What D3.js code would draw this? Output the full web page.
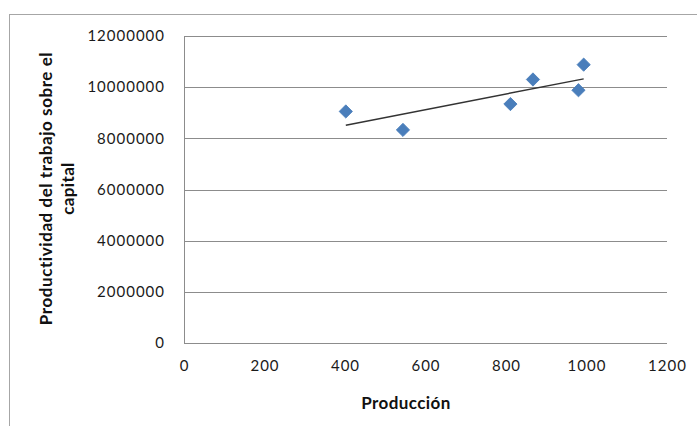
<!DOCTYPE html>
<html>
<head>
<meta charset="utf-8">
<script src="https://cdn.jsdelivr.net/npm/d3@7"></script>
<style>
html,body{margin:0;padding:0;background:#fff;}
svg{display:block;}
</style>
</head>
<body>
<svg id="chart" width="697" height="426"></svg>
<script>
const produccion = [402, 544, 811, 867, 980, 993];
const productividad = [9050000, 8330000, 9340000, 10300000, 9880000, 10880000];
const xTicks = [0, 200, 400, 600, 800, 1000, 1200];
const yTicks = [0, 2000000, 4000000, 6000000, 8000000, 10000000, 12000000];
const xTitle = "Producción";
const yTitleLines = ["Productividad del trabajo sobre el", "capital"];

const svg = d3.select("#chart");
const m = {left: 184, right: 667, top: 36, bottom: 343};
const x = d3.scaleLinear().domain([0, 1200]).range([m.left, m.right]);
const y = d3.scaleLinear().domain([0, 12000000]).range([m.bottom, m.top]);

// outer chart border
svg.append("rect").attr("x", 9.5).attr("y", 14.5).attr("width", 700).attr("height", 420)
  .attr("fill", "none").attr("stroke", "#a6a6a6").attr("stroke-width", 1);

// gridlines
svg.append("g").selectAll("line").data(yTicks).join("line")
  .attr("x1", m.left).attr("x2", m.right)
  .attr("y1", d => Math.round(y(d)) + 0.5).attr("y2", d => Math.round(y(d)) + 0.5)
  .attr("stroke", "#8c8c8c").attr("stroke-width", 1);

// left axis line
svg.append("line").attr("x1", m.left + 0.5).attr("x2", m.left + 0.5)
  .attr("y1", m.top).attr("y2", m.bottom + 0.5).attr("stroke", "#8c8c8c");

const font = "Lato, 'Open Sans', sans-serif";

// y axis labels
const yAxis = d3.axisLeft(y).tickValues(yTicks).tickFormat(d3.format("d")).tickSize(0).tickPadding(19);
const gy = svg.append("g").attr("transform", `translate(${m.left},0)`).call(yAxis);
gy.select(".domain").remove();
gy.selectAll("text").attr("font-family", font).attr("font-size", 15).attr("fill", "#1a1a1a")
  .attr("letter-spacing", 1);

// x axis labels
const xAxis = d3.axisBottom(x).tickValues(xTicks).tickFormat(d3.format("d")).tickSize(0).tickPadding(17);
const gx = svg.append("g").attr("transform", `translate(0,${m.bottom})`).call(xAxis);
gx.select(".domain").remove();
gx.selectAll("text").attr("font-family", font).attr("font-size", 15).attr("fill", "#1a1a1a")
  .attr("letter-spacing", 1);

// trend line (least squares)
const n = produccion.length;
const mx = d3.mean(produccion), my = d3.mean(productividad);
let sxy = 0, sxx = 0;
for (let i = 0; i < n; i++) { sxy += (produccion[i]-mx)*(productividad[i]-my); sxx += (produccion[i]-mx)**2; }
const slope = sxy / sxx, icpt = my - slope * mx;
const [x0, x1] = d3.extent(produccion);
svg.append("line")
  .attr("x1", x(x0)).attr("y1", y(icpt + slope * x0))
  .attr("x2", x(x1)).attr("y2", y(icpt + slope * x1))
  .attr("stroke", "#333").attr("stroke-width", 1.5);

// points
const pts = produccion.map((d, i) => ({x: d, y: productividad[i]}));
svg.append("g").selectAll("path").data(pts).join("path")
  .attr("d", d3.symbol(d3.symbolSquare, 88)())
  .attr("transform", d => `translate(${x(d.x)},${y(d.y)}) rotate(45)`)
  .attr("fill", "#4a7ebb").attr("stroke", "#4a7ebb").attr("stroke-width", 0.8);

// fit text to a target width using letter-spacing
function fit(sel, target) {
  const len = sel.node().getComputedTextLength();
  const chars = sel.text().length;
  if (chars > 1) sel.attr("letter-spacing", (target - len) / (chars - 1));
}

// titles
const xt = svg.append("text").attr("x", 406).attr("y", 409).attr("text-anchor", "middle")
  .attr("font-family", font).attr("font-weight", "bold").attr("font-size", 17).attr("fill", "#111")
  .text(xTitle);
fit(xt, 89);

const yt = svg.append("text").attr("transform", "translate(0,188.5) rotate(-90)")
  .attr("text-anchor", "middle").attr("font-family", font).attr("font-weight", "bold")
  .attr("font-size", 17).attr("fill", "#111");
yTitleLines.forEach((t, i) => {
  yt.append("tspan").attr("x", 0).attr("y", 52 + i * 22).text(t);
});
fit(yt.select("tspan:nth-child(1)"), 273);
fit(yt.select("tspan:nth-child(2)"), 52);
</script>
</body>
</html>
